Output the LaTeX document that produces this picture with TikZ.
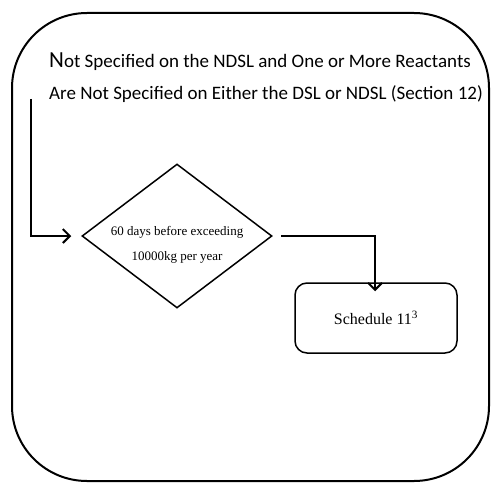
\documentclass[tikz,border=0pt]{standalone}
\usepackage{fontspec}
\setmainfont{Liberation Serif}
\newfontfamily\calib{Carlito}
\usetikzlibrary{shapes.geometric,arrows.meta}
\begin{document}
\begin{tikzpicture}[x=1pt,y=-1pt,
  line/.style={line width=2pt},
  arr/.style={line width=2pt,-{Straight Barb[length=7pt,width=14pt,line width=2pt]}},
  txt/.style={font=\calib\fontsize{19}{22}\selectfont,anchor=base west,inner sep=0pt}]
\useasboundingbox (0,0) rectangle (500,492);
\draw[line width=2pt,rounded corners=75pt] (12,13) rectangle (489,481);
\node[txt] (l1) at (49,68) {{\fontsize{23}{24}\selectfont N}ot Specified on the NDSL and One or More Reactants};
\node[txt] (l2) at (49,100) {Are Not Specified on Either the DSL or NDSL (Section 12)};
\node[diamond,draw,line width=1.5pt,minimum width=190pt,minimum height=144pt,inner sep=0pt] (d) at (177,236) {};
\node[font=\fontsize{13}{25}\selectfont,align=center,inner sep=0pt] (dt) at (177,245) {60 days before exceeding\\10000kg per year};
\node[draw,line width=1.5pt,rounded corners=12pt,minimum width=162pt,minimum height=70pt,
  font=\fontsize{16}{19}\selectfont] (s) at (376,318) {Schedule 11\textsuperscript{3}};
\coordinate (a0) at (31,99);
\coordinate (a1) at (31,236);
\coordinate (b0) at (281,236);
\coordinate (b1) at (375,236);
\draw[arr] (a0) -- (a1) -- ([xshift=-10pt]d.west);
\draw[arr] (b0) -- (b1) -- ([yshift=-9pt]s.north -| b1);
\end{tikzpicture}
\end{document}
